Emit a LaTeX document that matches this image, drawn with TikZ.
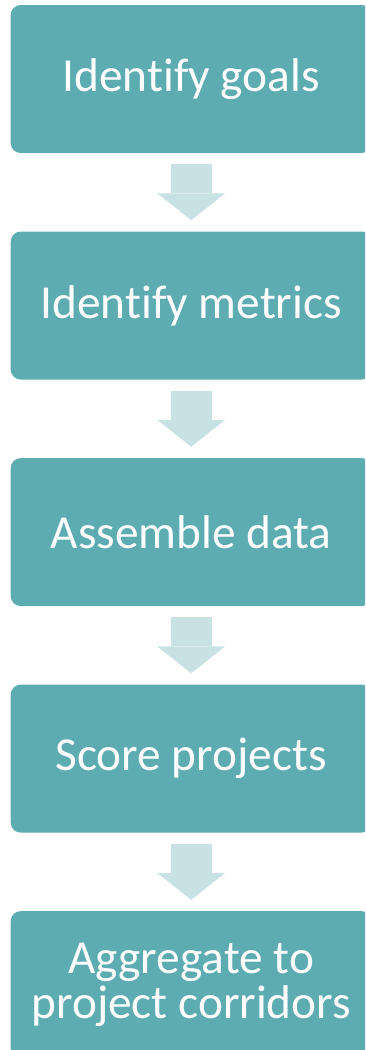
\documentclass[tikz,border=0pt]{standalone}
\usepackage{fontspec}
\setmainfont{Carlito}[Ligatures=NoCommon]
\usetikzlibrary{positioning,arrows.meta}
\definecolor{boxteal}{HTML}{5DACB1}
\definecolor{arrowpale}{HTML}{C8E1E2}
\begin{document}
\begin{tikzpicture}[
  stepbox/.style={fill=boxteal, rounded corners=7.5pt, minimum width=270.75pt,
    minimum height=111pt, inner sep=0pt, text=white, align=center,
    font=\fontsize{35.5}{34}\selectfont},
  blockarrow/.style={draw=arrowpale, line width=30.75pt,
    -{Triangle[length=20.25pt, width=51pt, line width=0pt]},
    shorten <=8.25pt, shorten >=8.25pt}]
\clip (0,0) rectangle (273.75pt,-787.5pt);
\node[stepbox] (goals) at (143.4pt,-59.25pt) {Identify goals};
\node[stepbox,below=58.5pt of goals] (metrics) {Identify metrics};
\node[stepbox,below=58.5pt of metrics] (data) {Assemble data};
\node[stepbox,below=58.5pt of data] (score) {Score projects};
\node[stepbox,below=58.5pt of score] (corridors) {Aggregate to\\project corridors};
% arrows between the steps
\draw[blockarrow] (goals) -- (metrics);
\draw[blockarrow] (metrics) -- (data);
\draw[blockarrow] (data) -- (score);
\draw[blockarrow] (score) -- (corridors);
\end{tikzpicture}
\end{document}
